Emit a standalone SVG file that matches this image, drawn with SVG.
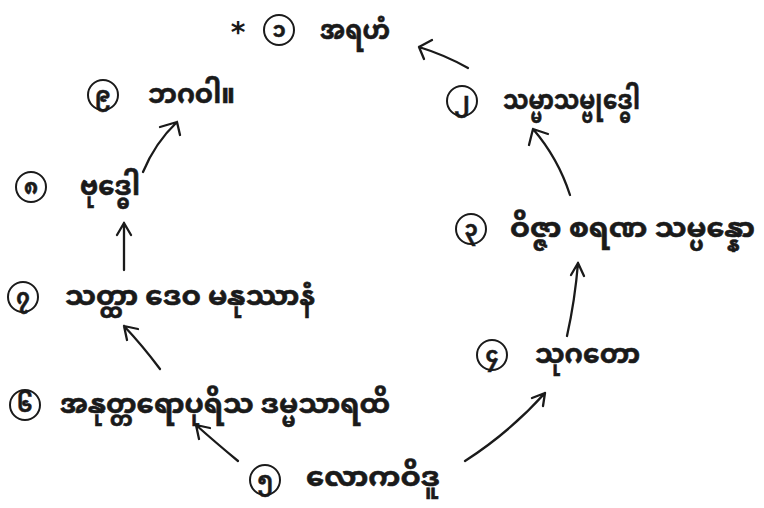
<svg xmlns="http://www.w3.org/2000/svg" width="764" height="508" viewBox="0 0 764 508">
<defs>
<style>
.bg{fill:#ffffff}
.c{fill:none;stroke:#1a1a1a;stroke-width:2}
.n{font-family:"Noto Sans Myanmar","Padauk","Myanmar Text","Noto Sans",sans-serif;font-size:21px;font-weight:bold;fill:#1a1a1a;stroke:#1a1a1a;stroke-width:0.5;text-anchor:middle}
.t{font-family:"Noto Sans Myanmar","Padauk","Myanmar Text","Noto Sans",sans-serif;font-size:27px;font-weight:bold;fill:#1a1a1a;stroke:#1a1a1a;stroke-width:0.6}
.a{fill:none;stroke:#1a1a1a;stroke-width:2.3;stroke-linecap:round;stroke-linejoin:round}
</style>
</defs>
<rect class="bg" x="0" y="0" width="764" height="508"/>
<g id="node1">
<text x="238" y="42" text-anchor="middle" style="font-family:'DejaVu Sans',sans-serif;font-size:28px;font-weight:bold;fill:#1a1a1a">*</text>
<circle class="c" cx="279" cy="30" r="15"/><text class="n" x="279" y="37">၁</text>
<text class="t" x="320" y="39" textLength="70" lengthAdjust="spacingAndGlyphs">အရဟံ</text>
</g>
<g id="node2">
<circle class="c" cx="462" cy="101" r="15"/><text class="n" x="462" y="108">၂</text>
<text class="t" x="503" y="109" textLength="137" lengthAdjust="spacingAndGlyphs">သမ္မာသမ္ဗုဒ္ဓေါ</text>
</g>
<g id="node3">
<circle class="c" cx="471" cy="229" r="15"/><text class="n" x="471" y="236">၃</text>
<text class="t" x="510" y="237" textLength="245" lengthAdjust="spacingAndGlyphs">ဝိဇ္ဇာ  စရဏ  သမ္ပန္နော</text>
</g>
<g id="node4">
<circle class="c" cx="492" cy="355" r="15"/><text class="n" x="492" y="362">၄</text>
<text class="t" x="535" y="363" textLength="105" lengthAdjust="spacingAndGlyphs">သုဂတော</text>
</g>
<g id="node5">
<circle class="c" cx="265" cy="480" r="15"/><text class="n" x="265" y="487">၅</text>
<text class="t" x="306" y="486" textLength="134" lengthAdjust="spacingAndGlyphs">လောကဝိဒူ</text>
</g>
<g id="node6">
<circle class="c" cx="25" cy="405" r="15"/><text class="n" x="25" y="412">၆</text>
<text class="t" x="60" y="413" textLength="330" lengthAdjust="spacingAndGlyphs">အနုတ္တရောပုရိသ  ဒမ္မသာရထိ</text>
</g>
<g id="node7">
<circle class="c" cx="23" cy="297" r="15"/><text class="n" x="23" y="304">၇</text>
<text class="t" x="65" y="305" textLength="250" lengthAdjust="spacingAndGlyphs">သတ္ထာ  ဒေဝ  မနုဿာနံ</text>
</g>
<g id="node8">
<circle class="c" cx="31" cy="187" r="15"/><text class="n" x="31" y="194">၈</text>
<text class="t" x="80" y="195" textLength="60" lengthAdjust="spacingAndGlyphs">ဗုဒ္ဓေါ</text>
</g>
<g id="node9">
<circle class="c" cx="103" cy="95" r="15"/><text class="n" x="103" y="102">၉</text>
<text class="t" x="148" y="103" textLength="87" lengthAdjust="spacingAndGlyphs">ဘဂဝါ။</text>
</g>
<g id="connectors">
<path class="a" d="M468,68 Q445,55 419,47 M419,47 L432,40 M419,47 L424,59"/>
<path class="a" d="M143,172 Q155,143 177,122 M177,122 L160,127 M177,122 L180,135"/>
<path class="a" d="M570,195 Q558,158 533,129 M533,129 L529,145 M533,129 L548,134"/>
<path class="a" d="M124,270 L124,223 M124,223 L117,235 M124,223 L131,235"/>
<path class="a" d="M567,336 Q575,300 578,263 M578,263 L571,275 M578,263 L584,276"/>
<path class="a" d="M160,369 Q142,345 124,326 M124,326 L127,340 M124,326 L138,329"/>
<path class="a" d="M238,461 Q215,442 196,425 M196,425 L199,439 M196,425 L210,428"/>
<path class="a" d="M465,461 Q510,432 545,393 M545,393 L532,398 M545,393 L543,406"/>
</g>
</svg>
